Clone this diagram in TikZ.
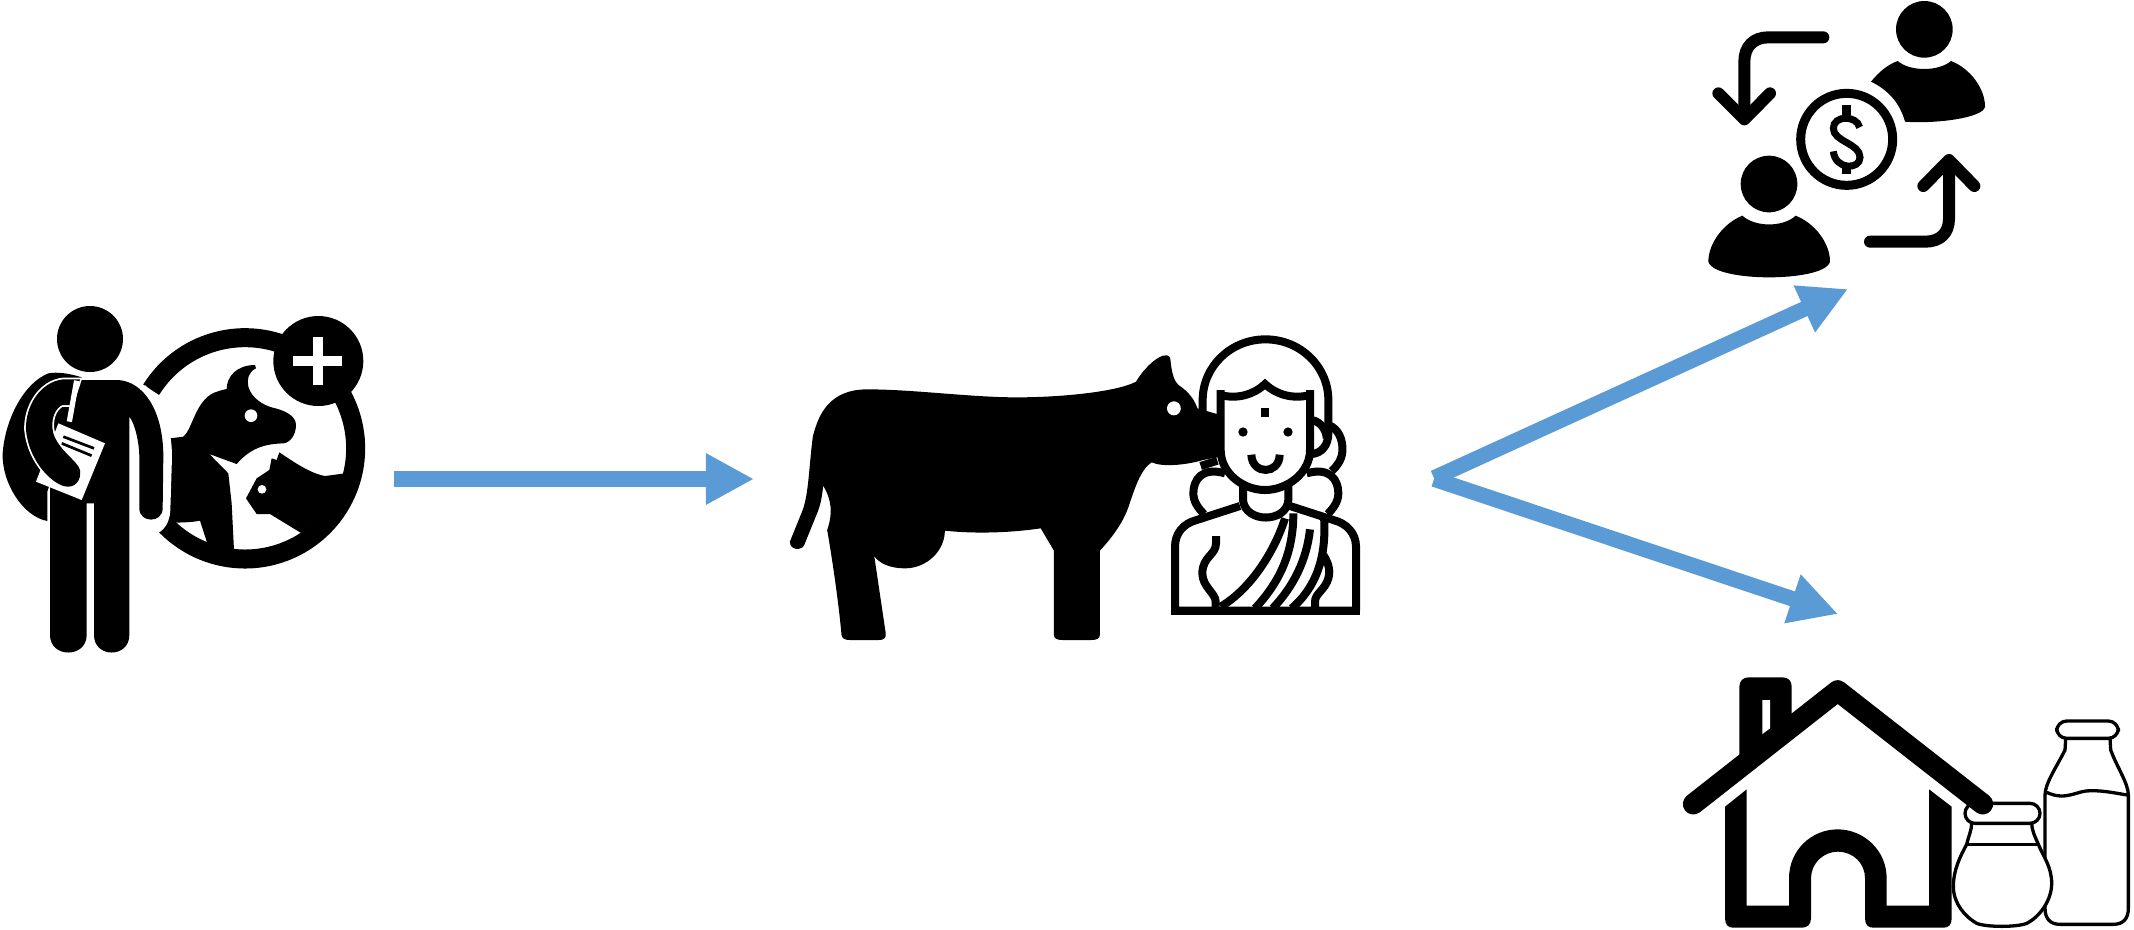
\documentclass[tikz,border=0pt]{standalone}
\usetikzlibrary{arrows.meta}
\definecolor{flowblue}{HTML}{5B9BD5}
\tikzset{
  flow/.style={draw=flowblue,line width=0.16cm,-{Triangle[length=0.48cm,width=0.48cm,fill=flowblue]}},
  ink/.style={fill=black},
  knock/.style={fill=white},
  outline/.style={draw=black,line width=0.08cm,line join=miter},
  thinline/.style={draw=black,line width=0.033cm,line join=round},
  bent/.style={draw=black,line width=0.12cm,line cap=round,line join=round},
}
\begin{document}
\begin{tikzpicture}[x=0.01cm,y=-0.01cm]
\useasboundingbox (0,0) rectangle (2134,929);

%% ---------- vet with animals ----------
\begin{scope}[shift={(0,290)},scale=1/3]
  % ring
  \draw[line width=0.19cm] ([shift={(-148:332)}]735,475) arc[start angle=-148,end angle=138,radius=332];
  % dog
  \fill[ink] (510,445) -- (550,440) .. controls (575,420) and (585,345) .. (630,315)
     .. controls (650,302) and (670,300) .. (680,297)
     .. controls (680,260) and (710,225) .. (765,225) -- (768,235)
     .. controls (745,245) and (740,270) .. (745,290)
     .. controls (755,325) and (790,345) .. (815,352)
     .. controls (850,360) and (888,375) .. (888,405)
     .. controls (888,435) and (870,458) .. (850,460)
     .. controls (800,462) and (755,470) .. (710,522)
     -- (628,492) -- (685,550) -- (695,640) -- (702,780) -- (660,775) -- (622,760)
     -- (600,692) .. controls (575,697) and (550,697) .. (525,698) -- (505,700) -- cycle;
  \fill[knock] (753,377) circle (19);
  % cat
  \fill[ink] (1035,550) -- (975,558) .. controls (930,550) and (880,515) .. (838,487)
     -- (830,510) -- (815,505) -- (808,540) -- (770,565) -- (738,625) -- (770,672)
     -- (810,672) -- (905,730) -- (1000,650) -- (1040,590) -- cycle;
  \fill[knock] (786,598) circle (13);
  % plus badge
  \fill[ink] (955,213) circle (135);
  \fill[knock] (880,199) rectangle (1027,229);
  \fill[knock] (940,142) rectangle (970,286);
  % person
  \fill[ink] (270,147) circle (99);
  \fill[ink] (245,262) .. controls (210,250) and (170,245) .. (145,250)
     .. controls (70,280) and (15,390) .. (8,490)
     .. controls (5,580) and (70,680) .. (142,693) -- (142,605) -- (240,300) -- cycle;
  \draw[white,line width=0.14cm] (420,300) .. controls (470,350) and (495,420) .. (495,500) -- (490,660)
     .. controls (488,700) and (465,715) .. (450,712);
  \fill[ink] (235,270) -- (355,270) .. controls (430,275) and (490,360) .. (490,500)
     -- (488,655) .. controls (488,700) and (418,700) .. (418,655) -- (418,500)
     .. controls (418,460) and (405,400) .. (388,380) -- (388,1035)
     .. controls (388,1105) and (282,1105) .. (282,1035) -- (282,640) -- (260,640) -- (260,1035)
     .. controls (260,1105) and (150,1105) .. (150,1035) -- (150,330) -- cycle;
  \fill[knock] (175,400) -- (315,460) -- (245,630) -- (108,575) -- cycle;
  \draw[line width=0.027cm] (190,440) -- (282,475) (185,460) -- (275,497);
  \fill[ink,preaction={draw=white,line width=0.035cm}] (240,268) -- (190,268)
     .. controls (120,275) and (75,350) .. (78,420)
     .. controls (85,500) and (140,570) .. (190,588)
     .. controls (225,598) and (245,570) .. (240,540)
     .. controls (235,515) and (175,480) .. (160,430)
     .. controls (150,390) and (165,355) .. (187,345) -- (215,345) -- cycle;
  \draw[white,line width=0.053cm] (230,272) -- (208,395);
\end{scope}

%% ---------- woman and cow ----------
\begin{scope}[shift={(1130,310)},scale=1/3]
  % hair
  \draw[outline,line cap=butt] (218,330) -- (218,270) arc[start angle=180,end angle=360,x radius=188.5,y radius=182] -- (595,370)
     .. controls (595,405) and (575,430) .. (545,432);
  \draw[outline] (545,330) .. controls (575,335) and (590,365) .. (590,385);
  \draw[outline] (595,345) .. controls (625,355) and (640,390) .. (637,425) .. controls (635,450) and (620,470) .. (605,483);
  % buns
  \draw[outline] (285,490) .. controls (215,470) and (190,510) .. (190,550) .. controls (190,575) and (205,595) .. (222,612);
  \draw[outline] (530,490) .. controls (600,470) and (625,510) .. (625,550) .. controls (625,575) and (610,595) .. (593,612);
  \draw[outline] (212,468) -- (262,452);
  % body
  \draw[outline,line join=round] (330,588) -- (200,630) .. controls (160,640) and (135,670) .. (135,710) -- (135,902) -- (678,902)
     -- (678,710) .. controls (678,670) and (650,640) .. (610,630) -- (480,588);
  \fill[ink] (122,890) rectangle (690,916);
  % neck
  \draw[outline] (339,525) -- (339,570) .. controls (345,640) and (470,640) .. (475,570) -- (475,525);
  % sari
  \draw[outline] (465,625) .. controls (435,720) and (365,835) .. (272,890);
  \draw[outline] (490,610) .. controls (490,720) and (455,810) .. (375,895);
  \draw[outline] (540,658) .. controls (530,750) and (490,830) .. (428,895);
  \draw[outline] (582,620) .. controls (590,740) and (560,830) .. (485,895);
  \draw[outline] (258,678) -- (258,700) .. controls (258,735) and (217,740) .. (217,790)
     .. controls (217,830) and (257,850) .. (257,875) -- (257,892);
  \draw[outline] (580,735) .. controls (600,765) and (600,790) .. (595,805)
     .. controls (585,840) and (555,850) .. (555,875) -- (555,892);
\end{scope}
% cow
\begin{scope}[shift={(500,310)},xscale=1/1.742,yscale=1/3]
  \fill[ink] (640,238) .. controls (720,238) and (820,262) .. (900,262)
     .. controls (980,262) and (1075,245) .. (1108,215)
     .. controls (1120,180) and (1140,145) .. (1155,137)
     .. controls (1165,133) and (1168,140) .. (1168,150)
     .. controls (1170,190) and (1175,215) .. (1182,225)
     .. controls (1200,245) and (1210,270) .. (1215,295)
     -- (1255,315) -- (1255,440) -- (1225,450)
     .. controls (1195,465) and (1155,472) .. (1135,457)
     .. controls (1115,480) and (1105,540) .. (1095,590)
     .. controls (1085,640) and (1065,685) .. (1045,722) -- (1045,975)
     .. controls (1045,985) and (1040,990) .. (1030,990) -- (980,990)
     .. controls (970,990) and (965,985) .. (965,975) -- (965,722) -- (942,655)
     .. controls (890,668) and (830,672) .. (775,662)
     .. controls (775,720) and (745,775) .. (705,775)
     .. controls (680,775) and (660,760) .. (652,738)
     -- (672,970) .. controls (673,985) and (668,990) .. (660,990)
     -- (610,990) .. controls (600,990) and (596,985) .. (595,975)
     .. controls (590,880) and (580,760) .. (570,660) .. controls (580,610) and (578,570) .. (563,527)
     .. controls (560,580) and (555,600) .. (550,620) -- (530,705)
     .. controls (526,722) and (505,722) .. (505,695) -- (525,610)
     .. controls (538,560) and (538,470) .. (545,380)
     .. controls (555,310) and (575,238) .. (640,238) -- cycle;
  \fill[knock] (1174,295) ellipse [x radius=12,y radius=21];
\end{scope}
% woman's face on top of the cow's head
\begin{scope}[shift={(1130,310)},scale=1/3]
  \filldraw[outline,fill=white] (272,240) -- (272,420) .. controls (272,490) and (340,540) .. (405,540)
     .. controls (470,540) and (540,490) .. (540,420) -- (540,240);
  \draw[outline] (272,255) .. controls (320,268) and (370,255) .. (405,222)
     .. controls (440,255) and (490,268) .. (540,255);
  \fill[ink] (392,293) rectangle (418,320);
  \fill[ink] (339,366) circle (14);
  \fill[ink] (474,366) circle (14);
  \draw[outline] (364,434) .. controls (366,495) and (448,495) .. (449,434);
\end{scope}

%% ---------- money exchange ----------
\begin{scope}[shift={(1690,0)},scale=1/3]
  \fill[ink] (703,88) circle (85);
  \fill[ink] (623,183) .. controls (660,215) and (745,215) .. (783,183)
     .. controls (840,205) and (885,265) .. (885,320)
     .. controls (880,355) and (730,372) .. (645,365)
     .. controls (630,310) and (595,270) .. (543,245)
     .. controls (565,218) and (590,195) .. (623,183) -- cycle;
  \fill[ink] (237,552) circle (85);
  \fill[ink] (157,647) .. controls (195,682) and (280,682) .. (317,647)
     .. controls (375,670) and (420,730) .. (420,785)
     .. controls (410,820) and (310,832) .. (237,832)
     .. controls (165,832) and (65,820) .. (55,785)
     .. controls (55,730) and (100,670) .. (157,647) -- cycle;
  \draw[line width=0.09cm] (470,418) circle (138);
  \draw[line width=0.07cm] (509,382) .. controls (500,345) and (430,345) .. (430,385)
     .. controls (430,425) and (510,430) .. (510,472)
     .. controls (510,510) and (435,510) .. (430,454);
  \fill[ink] (457,315) rectangle (483,345);
  \fill[ink] (457,490) rectangle (483,521);
  \draw[bent] (400,112) -- (235,112) .. controls (190,112) and (163,140) .. (163,185) -- (163,350);
  \draw[bent] (85,280) -- (163,358) -- (240,280);
  \draw[bent] (540,725) -- (705,725) .. controls (750,725) and (777,700) .. (777,655) -- (777,490);
  \draw[bent] (700,558) -- (777,480) -- (853,558);
\end{scope}

%% ---------- farmhouse and milk ----------
\begin{scope}[shift={(1700,660)},scale=1/3]
  % bottle
  \draw[thinline,fill=white] (1097,235) -- (1095,270) .. controls (1070,320) and (1035,370) .. (1035,405) -- (1035,745)
     .. controls (1035,775) and (1050,793) .. (1080,793) -- (1240,793)
     .. controls (1270,793) and (1285,775) .. (1285,745) -- (1285,405)
     .. controls (1285,370) and (1250,320) .. (1232,270) -- (1230,235);
  \draw[thinline] (1040,397) .. controls (1100,425) and (1130,390) .. (1175,392) .. controls (1215,392) and (1250,400) .. (1282,405);
  \draw[thinline,fill=white,rounded corners=0.1cm] (1070,183) rectangle (1255,235);
  % jar
  \draw[thinline,fill=white] (815,490) .. controls (815,510) and (805,530) .. (800,553)
     .. controls (780,590) and (760,630) .. (760,680)
     .. controls (760,730) and (795,770) .. (830,790)
     .. controls (860,802) and (950,802) .. (980,790)
     .. controls (1020,770) and (1055,720) .. (1055,670)
     .. controls (1055,620) and (1030,590) .. (1015,553)
     .. controls (1005,530) and (995,510) .. (995,490);
  \draw[thinline] (800,553) -- (1015,553);
  \draw[thinline,fill=white,rounded corners=0.1cm] (795,430) rectangle (1020,490);
  % house
  \draw[line width=0.21cm,line cap=round,line join=round] (-20,432) -- (413,92) -- (848,432);
  \fill[ink] (118,290) -- (118,80) .. controls (118,62) and (130,52) .. (146,52) -- (247,52)
     .. controls (265,52) and (275,62) .. (275,80) -- (275,200) -- cycle;
  \fill[knock] (187,120) -- (210,120) -- (210,205) -- (187,222) -- cycle;
  \fill[ink] (75,440) -- (140,388) -- (140,737) -- (267,737) -- (267,655)
     .. controls (267,570) and (335,508) .. (413,508)
     .. controls (490,508) and (560,570) .. (560,655) -- (560,737) -- (687,737) -- (687,388) -- (755,440)
     -- (755,775) .. controls (755,795) and (745,803) .. (730,803) -- (520,803)
     .. controls (505,803) and (495,795) .. (495,775) -- (495,655)
     .. controls (495,610) and (460,575) .. (413,575)
     .. controls (370,575) and (333,610) .. (333,655) -- (333,775)
     .. controls (333,795) and (320,803) .. (305,803) -- (100,803)
     .. controls (85,803) and (75,795) .. (75,775) -- cycle;
\end{scope}

%% ---------- flow arrows ----------
\coordinate (vetEnd) at (394,479);
\coordinate (cowIn) at (754,479);
\coordinate (forkA) at (1434,478);
\coordinate (moneyIn) at (1848,289);
\coordinate (forkB) at (1434,479);
\coordinate (homeIn) at (1838,614);
\draw[flow] (vetEnd) -- (cowIn);
\draw[flow,line width=0.155cm] (forkA) -- (moneyIn);
\draw[flow,line width=0.155cm] (forkB) -- (homeIn);
\end{tikzpicture}
\end{document}
